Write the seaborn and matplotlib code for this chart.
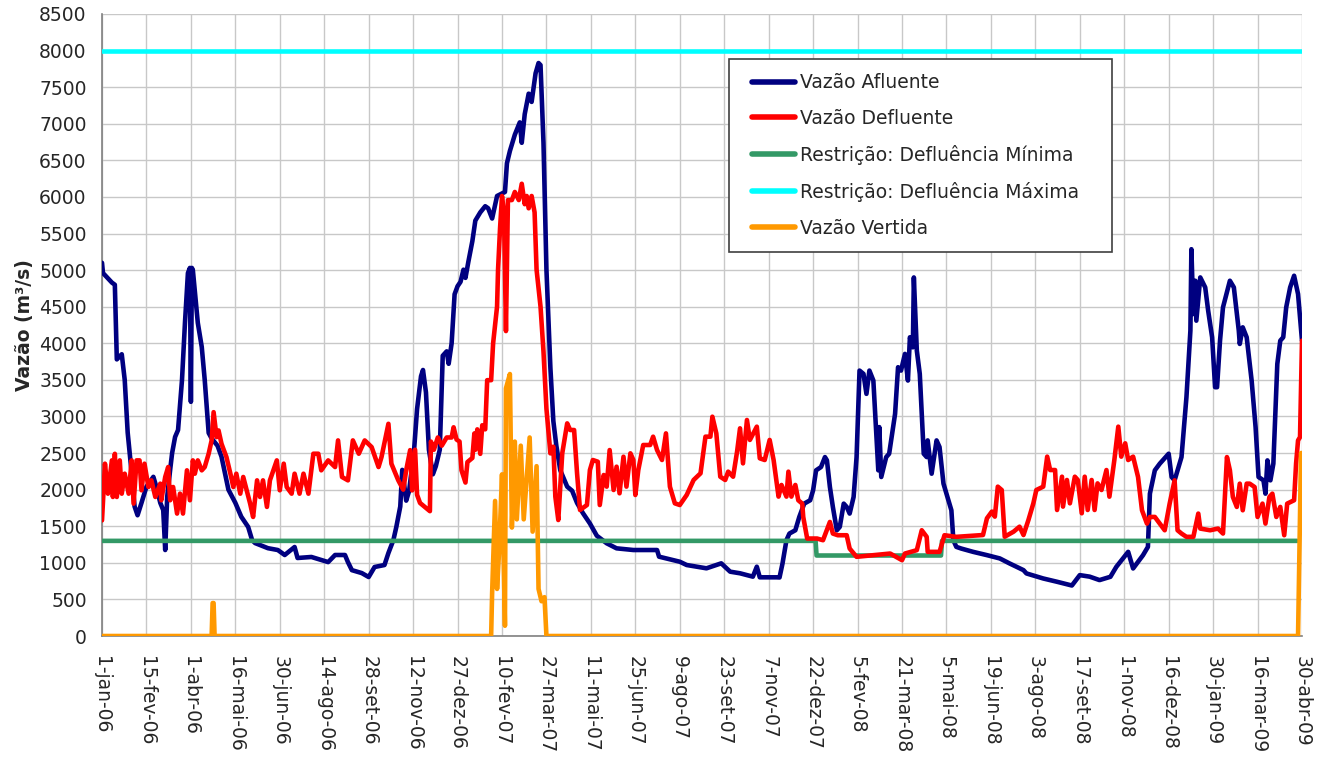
import matplotlib
matplotlib.use("Agg")
import matplotlib.pyplot as plt
from matplotlib.legend_handler import HandlerLine2D
import seaborn as sns

# ---------------- data (days since 1-jan-06, values in m3/s) ----------------
afl_day = [0, 1, 10, 13, 15, 20, 23, 26, 30, 33, 36, 40, 45, 52, 55, 59, 62, 64, 66, 69, 71, 74, 77, 81, 84, 87,
           89, 90, 91, 92, 97, 101, 104, 108, 111, 117, 121, 128, 135, 141, 148, 152, 155, 168, 178, 185, 195, 198,
           212, 229, 236, 246, 249, 253, 263, 270, 276, 286, 290, 295, 298, 302, 304, 308, 311, 316, 319, 323, 325,
           328, 331, 335, 338, 342, 345, 349, 351, 354, 357, 360, 363, 366, 368, 371, 375, 378, 383, 388, 391, 395,
           400, 408, 410, 413, 418, 423, 425, 428, 432, 435, 439, 442, 444, 447, 450, 454, 457, 460, 464, 471, 476,
           481, 487, 494, 501, 511, 521, 538, 562, 564, 585, 592, 612, 627, 636, 646, 659, 663, 666, 683, 686, 689,
           693, 696, 702, 706, 711, 717, 720, 723, 728, 732, 734, 737, 740, 744, 747, 751, 754, 757, 761, 764, 767,
           771, 774, 777, 781, 786, 787, 789, 794, 797, 803, 806, 809, 813, 816, 818, 821, 822, 825, 828, 832, 835,
           836, 840, 845, 848, 852, 857, 860, 862, 865, 870, 882, 896, 909, 919, 933, 936, 953, 967, 982, 990, 1000,
           1010, 1021, 1027, 1039, 1044, 1054, 1059, 1061, 1066, 1071, 1080, 1083, 1086, 1091, 1093, 1098, 1102,
           1103, 1105, 1107, 1108, 1112, 1117, 1120, 1124, 1127, 1129, 1132, 1135, 1142, 1146, 1151, 1152, 1155,
           1159, 1164, 1168, 1171, 1176, 1178, 1180, 1183, 1186, 1188, 1190, 1193, 1196, 1199, 1203, 1207, 1211, 1215]
afl_val = [5100, 4960, 4830, 4800, 3780, 3850, 3500, 2780, 2230, 1770, 1650, 1820, 2040, 2175, 2040, 1820, 1720, 1175,
           1900, 2270, 2500, 2720, 2815, 3500, 4280, 4960, 5030, 3200, 5030, 5000, 4280, 3950, 3500, 2775, 2700, 2600,
           2450, 2000, 1820, 1630, 1490, 1310, 1270, 1200, 1175, 1107, 1216, 1066, 1080, 1010, 1107, 1107, 1010, 900,
           860, 806, 943, 970, 1134, 1310, 1490, 1770, 2270, 1850, 1985, 2545, 3100, 3550, 3635, 3330, 2545, 2210,
           2320, 2545, 3830, 3890, 3720, 4000, 4670, 4780, 4840, 5006, 4894, 5118, 5397, 5677, 5789, 5873, 5845, 5705,
           6013, 6068, 6460, 6628, 6851, 7019, 6740, 7131, 7411, 7299, 7690, 7830, 7802, 6740, 5006, 3663, 2936, 2601,
           2265, 2041, 1985, 1818, 1678, 1538, 1370, 1267, 1198, 1175, 1175, 1084, 1015, 970, 925, 993, 879, 857, 811,
           947, 802, 802, 800, 990, 1309, 1400, 1445, 1627, 1809, 1855, 1991, 2264, 2309, 2445, 2400, 2036, 1764, 1445,
           1491, 1809, 1764, 1673, 1900, 2445, 3627, 3582, 3309, 3627, 3491, 2264, 2855, 2173, 2445, 2491, 3036, 3673,
           3627, 3855, 3491, 4082, 3945, 4900, 3900, 3582, 2491, 2445, 2673, 2218, 2673, 2582, 2082, 1855, 1718, 1309,
           1218, 1195, 1150, 1105, 1060, 991, 900, 855, 786, 741, 690, 832, 811, 764, 809, 945, 1150, 923, 1104, 1218,
           1945, 2264, 2355, 2491, 2173, 2127, 2355, 2445, 3264, 4173, 5286, 4400, 4855, 4309, 4900, 4764, 4445, 4082,
           3400, 3400, 4036, 4491, 4855, 4764, 4173, 3991, 4218, 4082, 3491, 2855, 2173, 2127, 1945, 2400, 2127, 2355,
           3036, 3718, 4036, 4082, 4491, 4764, 4923, 4673, 4036]

def_day = [0, 3, 6, 10, 11, 13, 15, 18, 20, 23, 27, 30, 32, 35, 38, 40, 43, 47, 50, 54, 59, 60, 64, 67, 69, 72, 76, 79,
           82, 86, 89, 92, 94, 97, 101, 104, 108, 111, 113, 116, 118, 121, 126, 130, 133, 136, 140, 143, 150, 153, 157,
           160, 163, 167, 170, 177, 180, 184, 187, 192, 195, 200, 204, 209, 214, 219, 222, 229, 236, 239, 243, 249,
           254, 260, 266, 273, 280, 283, 290, 293, 300, 305, 308, 312, 314, 317, 319, 322, 327, 332, 333, 336, 340,
           344, 349, 354, 356, 359, 362, 364, 368, 370, 375, 377, 378, 380, 383, 385, 388, 390, 394, 396, 400, 401,
           403, 405, 407, 409, 411, 415, 418, 422, 425, 428, 430, 432, 435, 438, 440, 444, 447, 450, 454, 457, 459,
           462, 466, 471, 474, 478, 481, 484, 491, 494, 497, 502, 504, 508, 511, 514, 518, 521, 524, 528, 531, 535,
           538, 540, 543, 548, 555, 558, 562, 567, 571, 575, 580, 585, 592, 599, 606, 611, 616, 618, 622, 626, 631,
           634, 639, 643, 646, 649, 653, 656, 663, 666, 671, 676, 680, 685, 688, 693, 695, 698, 702, 705, 709, 710,
           714, 724, 730, 737, 740, 745, 754, 757, 764, 781, 798, 810, 813, 825, 830, 835, 836, 848, 853, 865, 889,
           892, 896, 901, 904, 907, 911, 914, 923, 929, 933, 938, 943, 946, 953, 957, 960, 965, 967, 972, 973, 977,
           980, 985, 988, 992, 995, 998, 1002, 1005, 1008, 1012, 1017, 1020, 1025, 1029, 1032, 1036, 1039, 1044,
           1049, 1053, 1058, 1061, 1066, 1071, 1076, 1081, 1086, 1089, 1093, 1098, 1105, 1110, 1112, 1122, 1130,
           1135, 1139, 1142, 1145, 1149, 1152, 1155, 1159, 1162, 1167, 1170, 1175, 1178, 1182, 1185, 1189, 1193,
           1197, 1200, 1207, 1209, 1211, 1213, 1215]
def_val = [1580, 2355, 1945, 2400, 1900, 2490, 1900, 2400, 1945, 2218, 1945, 2400, 1809, 2400, 2400, 1991, 2355, 2036,
           2127, 1900, 2082, 1855, 2173, 2309, 1855, 2036, 1673, 1945, 1673, 2264, 1855, 2400, 2218, 2400, 2264, 2309,
           2491, 2673, 3059, 2718, 2809, 2627, 2445, 2218, 2036, 2218, 1945, 2173, 1809, 1627, 2127, 1900, 2127, 1764,
           2127, 2400, 1991, 2355, 2036, 1945, 2218, 1945, 2218, 1945, 2491, 2491, 2264, 2400, 2309, 2673, 2173, 2127,
           2673, 2491, 2673, 2582, 2309, 2445, 2900, 2355, 2127, 2000, 2265, 2540, 1990, 2545, 1930, 1818, 1762, 1706,
           2657, 2545, 2713, 2601, 2713, 2713, 2852, 2685, 2657, 2265, 2097, 2377, 2433, 2768, 2545, 2824, 2489, 2880,
           2824, 3496, 3496, 3999, 4502, 5006, 5565, 6013, 5789, 4167, 5957, 5957, 6068, 5957, 6180, 5901, 6013, 5845,
           6013, 5789, 5006, 4502, 3887, 3104, 2496, 2587, 1905, 1585, 2496, 2906, 2815, 2815, 2223, 1722, 1790, 2268,
           2405, 2382, 1790, 2200, 2041, 2541, 1995, 2314, 1950, 2450, 2041, 2496, 2405, 1927, 2268, 2610, 2610, 2724,
           2541, 2405, 2769, 2041, 1813, 1790, 1927, 2132, 2223, 2724, 2724, 2997, 2769, 2177, 2132, 2246, 2177, 2518,
           2838, 2359, 2952, 2679, 2861, 2428, 2405, 2679, 2405, 1905, 2064, 1905, 2246, 1905, 2064, 1855, 1809, 1627,
           1332, 1332, 1309, 1559, 1400, 1377, 1377, 1195, 1082, 1104, 1127, 1036, 1127, 1173, 1445, 1355, 1150, 1150,
           1377, 1355, 1377, 1380, 1608, 1700, 1631, 2041, 1995, 1357, 1426, 1494, 1380, 1585, 1813, 1995, 2041, 2451,
           2268, 2268, 1722, 2177, 1768, 2132, 1813, 2177, 2132, 1677, 2177, 1722, 2132, 1722, 2086, 1995, 2268, 1904,
           2405, 2861, 2451, 2633, 2405, 2451, 2173, 1718, 1536, 1627, 1627, 1536, 1445, 1809, 2127, 1445, 1400, 1355,
           1355, 1673, 1468, 1445, 1468, 1400, 2445, 2264, 1900, 1764, 2082, 1718, 2082, 2082, 2036, 1627, 1809, 1536,
           1900, 1945, 1627, 1764, 1377, 1809, 1855, 2355, 2673, 2718, 4036]

min_day = [0, 722.5, 723.5, 849.5, 850.5, 1210]
min_val = [1300, 1300, 1100, 1100, 1300, 1300]

max_day = [0, 1215]
max_val = [8000, 8000]

ver_day = [0, 111, 112, 113, 114, 394, 395, 398, 400, 402, 405, 408, 409, 413, 415, 418, 420, 424, 427, 433, 436, 440,
           442, 445, 448, 450, 1211, 1214, 1215]
ver_val = [0, 0, 450, 450, 0, 0, 587, 1846, 643, 1147, 2209, 140, 3384, 3580, 1482, 2657, 1594, 2601, 1594, 2713, 1426,
           2321, 643, 475, 531, 0, 0, 2500, 2500]

series_names = ["Vazão Afluente", "Vazão Defluente", "Restrição: Defluência Mínima",
                "Restrição: Defluência Máxima", "Vazão Vertida"]
series_colors = ["#000080", "#FF0000", "#339966", "#00FFFF", "#FF9900"]

tick_days = list(range(0, 1216, 45))
tick_labels = ["1-jan-06", "15-fev-06", "1-abr-06", "16-mai-06", "30-jun-06", "14-ago-06", "28-set-06",
               "12-nov-06", "27-dez-06", "10-fev-07", "27-mar-07", "11-mai-07", "25-jun-07", "9-ago-07",
               "23-set-07", "7-nov-07", "22-dez-07", "5-fev-08", "21-mar-08", "5-mai-08", "19-jun-08",
               "3-ago-08", "17-set-08", "1-nov-08", "16-dez-08", "30-jan-09", "16-mar-09", "30-abr-09"]
y_ticks = list(range(0, 8501, 500))

# ---------------- plot ----------------
sns.set_style("white")
plt.rcParams["font.family"] = ["DejaVu Sans"]
FS = 13.5

fig = plt.figure(figsize=(13.19, 7.60), dpi=100)
ax = fig.add_axes([102 / 1319, 1 - 636 / 760, 1200 / 1319, 622 / 760])

data = [(afl_day, afl_val), (def_day, def_val), (min_day, min_val), (max_day, max_val), (ver_day, ver_val)]
zorders = [3, 4, 3.5, 3.5, 5]
for (d, v), name, col, z in zip(data, series_names, series_colors, zorders):
    sns.lineplot(x=d, y=v, ax=ax, color=col, linewidth=3.3, sort=False, estimator=None,
                 label=name, zorder=z, solid_joinstyle="round", solid_capstyle="round")

ax.set_xlim(0, 1215)
ax.set_ylim(0, 8500)
ax.set_xticks(tick_days)
ax.set_xticklabels(tick_labels, rotation=270, fontsize=FS, ha="center", va="top")
ax.set_yticks(y_ticks)
ax.set_yticklabels([str(t) for t in y_ticks], fontsize=FS)
ax.tick_params(axis="both", direction="out", length=5, width=1, color="#808080")
ax.tick_params(axis="y", pad=6)
ax.tick_params(axis="x", pad=9.5)

ax.grid(True, color="#C8C8C8", linewidth=1)
ax.set_axisbelow(True)
for s in ["top", "right"]:
    ax.spines[s].set_visible(False)
for s in ["left", "bottom"]:
    ax.spines[s].set_color("#808080")
    ax.spines[s].set_linewidth(1.2)

ax.set_xlabel("")
ax.set_ylabel("Vazão (m³/s)", fontsize=FS, fontweight="bold", labelpad=4)

leg = ax.legend(loc="upper left",
                bbox_to_anchor=(729 / 1319, 1 - 244 / 760, 383 / 1319, 185 / 760),
                bbox_transform=fig.transFigure, mode="expand",
                frameon=True, fancybox=False, edgecolor="#404040", framealpha=1, fontsize=FS,
                handlelength=2.75, handletextpad=0.27, labelspacing=0.9, borderpad=0.75, borderaxespad=0,
                handler_map={matplotlib.lines.Line2D: HandlerLine2D(xpad=0.48)})
leg.get_frame().set_linewidth(1.2)
leg.set_zorder(10)
for line in leg.get_lines():
    line.set_linewidth(4)

fig.savefig("out.png", dpi=100)
